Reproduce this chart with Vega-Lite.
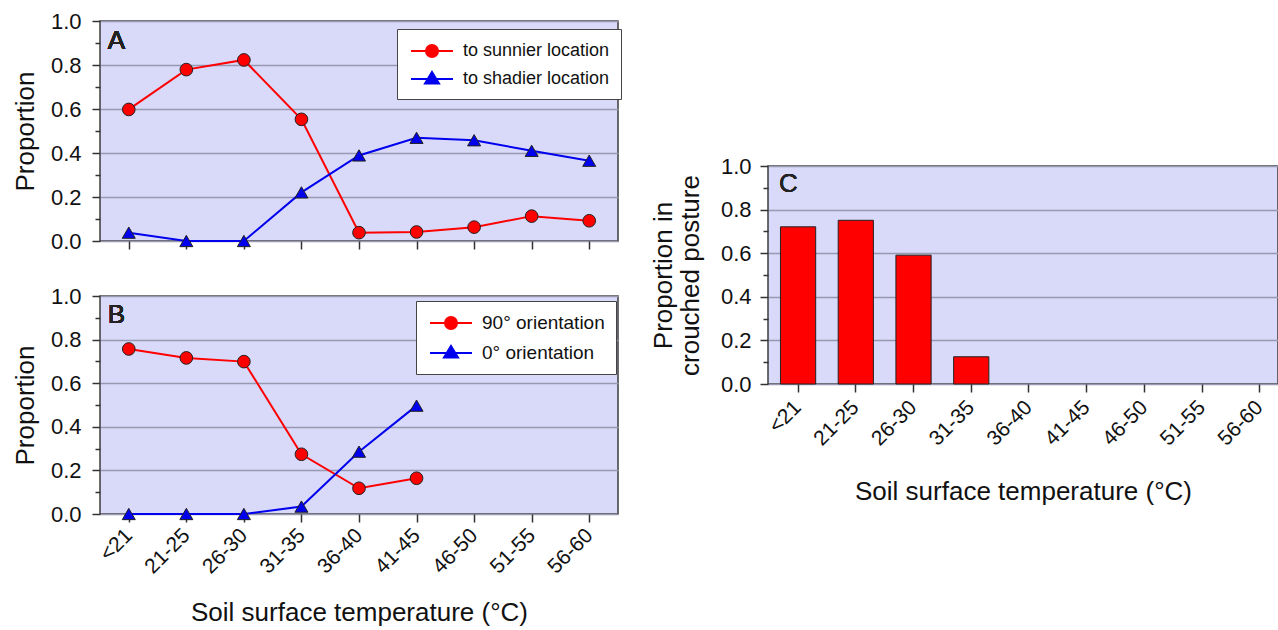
{
  "$schema": "https://vega.github.io/schema/vega-lite/v6.json",
  "background": "white",
  "padding": {"left": 11, "top": 9, "right": 0, "bottom": 0},
  "config": {
    "font": "Liberation Sans",
    "view": {"stroke": null},
    "axis": {"labelColor": "#111", "titleColor": "#111", "titleFontWeight": "normal", "labelFont": "Liberation Sans", "titleFont": "Liberation Sans"},
    "text": {"font": "Liberation Sans"}
  },
  "datasets": {
    "a": [
      {"t": "<21", "s": "to sunnier location", "p": 0.598},
      {"t": "21-25", "s": "to sunnier location", "p": 0.779},
      {"t": "26-30", "s": "to sunnier location", "p": 0.823},
      {"t": "31-35", "s": "to sunnier location", "p": 0.553},
      {"t": "36-40", "s": "to sunnier location", "p": 0.038},
      {"t": "41-45", "s": "to sunnier location", "p": 0.041},
      {"t": "46-50", "s": "to sunnier location", "p": 0.063},
      {"t": "51-55", "s": "to sunnier location", "p": 0.113},
      {"t": "56-60", "s": "to sunnier location", "p": 0.092},
      {"t": "<21", "s": "to shadier location", "p": 0.038},
      {"t": "21-25", "s": "to shadier location", "p": 0.0},
      {"t": "26-30", "s": "to shadier location", "p": 0.0},
      {"t": "31-35", "s": "to shadier location", "p": 0.221},
      {"t": "36-40", "s": "to shadier location", "p": 0.389},
      {"t": "41-45", "s": "to shadier location", "p": 0.469},
      {"t": "46-50", "s": "to shadier location", "p": 0.458},
      {"t": "51-55", "s": "to shadier location", "p": 0.41},
      {"t": "56-60", "s": "to shadier location", "p": 0.365}
    ],
    "b": [
      {"t": "<21", "s": "90° orientation", "p": 0.757},
      {"t": "21-25", "s": "90° orientation", "p": 0.716},
      {"t": "26-30", "s": "90° orientation", "p": 0.699},
      {"t": "31-35", "s": "90° orientation", "p": 0.274},
      {"t": "36-40", "s": "90° orientation", "p": 0.118},
      {"t": "41-45", "s": "90° orientation", "p": 0.164},
      {"t": "<21", "s": "0° orientation", "p": 0.0},
      {"t": "21-25", "s": "0° orientation", "p": 0.0},
      {"t": "26-30", "s": "0° orientation", "p": 0.0},
      {"t": "31-35", "s": "0° orientation", "p": 0.034},
      {"t": "36-40", "s": "0° orientation", "p": 0.286},
      {"t": "41-45", "s": "0° orientation", "p": 0.497}
    ],
    "c": [
      {"t": "<21", "p": 0.721},
      {"t": "21-25", "p": 0.751},
      {"t": "26-30", "p": 0.591},
      {"t": "31-35", "p": 0.125}
    ]
  },
  "spacing": 26,
  "resolve": {"scale": {"x": "independent", "y": "independent", "fill": "independent", "stroke": "independent", "shape": "independent"}, "legend": {"fill": "independent", "stroke": "independent", "shape": "independent"}},
  "hconcat": [
    {
      "spacing": 31,
      "resolve": {"scale": {"x": "independent", "y": "independent", "fill": "independent", "stroke": "independent", "shape": "independent"}, "legend": {"fill": "independent", "stroke": "independent", "shape": "independent"}},
      "vconcat": [
        {
          "width": 518,
          "height": 220,
          "view": {"fill": "#d9d9fa", "stroke": "#3c3c3c", "strokeWidth": 1.5},
          "data": {"name": "a"},
          "encoding": {
            "x": {"field": "t", "type": "ordinal", "scale": {"type": "point", "domain": ["<21", "21-25", "26-30", "31-35", "36-40", "41-45", "46-50", "51-55", "56-60"], "padding": 0.5},
              "axis": {"labels": false, "title": null, "domain": false, "ticks": true, "tickSize": 8, "tickColor": "#333", "tickWidth": 1.5, "grid": false}},
            "y": {"field": "p", "type": "quantitative", "scale": {"domain": [0, 1], "nice": false},
              "axis": {"values": [0, 0.1, 0.2, 0.3, 0.4, 0.5, 0.6, 0.7, 0.8, 0.9, 1.0], "format": ".1f",
                "labelExpr": "round(datum.value*10)%2==0 ? datum.label : ''",
                "tickSize": {"condition": {"test": "round(datum.value*10)%2==1", "value": 5}, "value": 8},
                "gridOpacity": {"condition": {"test": "round(datum.value*10)%2==1", "value": 0}, "value": 1},
                "grid": true, "gridColor": "#9898b0", "gridWidth": 1.5, "domain": false, "tickColor": "#333", "tickWidth": 1.5,
                "labelFontSize": 22, "labelPadding": 11, "title": "Proportion", "titleFontSize": 26, "titlePadding": 12}}
          },
          "layer": [
            {"transform": [{"filter": "datum.s === 'to sunnier location'"}], "mark": {"type": "line", "color": "#ff0000", "strokeWidth": 2}},
            {"transform": [{"filter": "datum.s === 'to shadier location'"}], "mark": {"type": "line", "color": "#0000ee", "strokeWidth": 2}},
            {"transform": [{"filter": "datum.s === 'to sunnier location'"}], "mark": {"type": "point", "shape": "circle", "filled": true, "fill": "#ff0000", "stroke": "#222", "strokeWidth": 1, "size": 160, "opacity": 1}},
            {"transform": [{"filter": "datum.s === 'to shadier location'"}], "mark": {"type": "point", "shape": "triangle-up", "filled": true, "fill": "#0000ee", "stroke": "#222", "strokeWidth": 1, "size": 170, "opacity": 1}},
            {"transform": [{"filter": "false"}], "mark": {"type": "point", "filled": true},
              "encoding": {
                "fill": {"field": "s", "type": "nominal", "scale": {"domain": ["to sunnier location", "to shadier location"], "range": ["#ff0000", "#0000ee"]},
                  "legend": {"orient": "none", "legendX": 297, "legendY": 8, "title": null, "symbolSize": 400, "symbolStrokeWidth": 2, "symbolOpacity": 1, "labelFontSize": 18, "labelColor": "#111", "labelOffset": 33, "padding": 11, "rowPadding": 7, "fillColor": "white", "strokeColor": "#444"}},
                "stroke": {"field": "s", "type": "nominal", "scale": {"domain": ["to sunnier location", "to shadier location"], "range": ["#ff0000", "#0000ee"]},
                  "legend": {"orient": "none", "legendX": 297, "legendY": 8, "title": null, "symbolSize": 400, "symbolStrokeWidth": 2, "symbolOpacity": 1, "labelFontSize": 18, "labelColor": "#111", "labelOffset": 33, "padding": 11, "rowPadding": 7, "fillColor": "white", "strokeColor": "#444"}},
                "shape": {"field": "s", "type": "nominal", "scale": {"domain": ["to sunnier location", "to shadier location"], "range": ["M-0.8,0H0.7M1.9,0H3.4M0.7,0A0.6,0.6 0 1,0 1.9,0A0.6,0.6 0 1,0 0.7,0Z", "M-0.8,0H3.4M1.3,-0.7L2.0,0.45L0.6,0.45Z"]},
                  "legend": {"orient": "none", "legendX": 297, "legendY": 8, "title": null, "symbolSize": 400, "symbolStrokeWidth": 2, "symbolOpacity": 1, "labelFontSize": 18, "labelColor": "#111", "labelOffset": 33, "padding": 11, "rowPadding": 7, "fillColor": "white", "strokeColor": "#444"}}
              }},
            {"mark": {"type": "text", "text": "A", "fontSize": 26, "fontWeight": "normal", "align": "left", "baseline": "middle", "dx": -21, "color": "#222"},
              "encoding": {"x": {"datum": "<21", "type": "ordinal"}, "y": {"datum": 0.91, "type": "quantitative"}}}
          ]
        },
        {
          "width": 518,
          "height": 218,
          "view": {"fill": "#d9d9fa", "stroke": "#3c3c3c", "strokeWidth": 1.5},
          "data": {"name": "b"},
          "encoding": {
            "x": {"field": "t", "type": "ordinal", "scale": {"type": "point", "domain": ["<21", "21-25", "26-30", "31-35", "36-40", "41-45", "46-50", "51-55", "56-60"], "padding": 0.5},
              "axis": {"labelAngle": -45, "labelAlign": "right", "labelBaseline": "middle", "labelFontSize": 21, "labelPadding": 10, "title": "Soil surface temperature (°C)", "titleFontSize": 26, "titlePadding": 22, "domain": false, "ticks": true, "tickSize": 8, "tickColor": "#333", "tickWidth": 1.5, "grid": false}},
            "y": {"field": "p", "type": "quantitative", "scale": {"domain": [0, 1], "nice": false},
              "axis": {"values": [0, 0.1, 0.2, 0.3, 0.4, 0.5, 0.6, 0.7, 0.8, 0.9, 1.0], "format": ".1f",
                "labelExpr": "round(datum.value*10)%2==0 ? datum.label : ''",
                "tickSize": {"condition": {"test": "round(datum.value*10)%2==1", "value": 5}, "value": 8},
                "gridOpacity": {"condition": {"test": "round(datum.value*10)%2==1", "value": 0}, "value": 1},
                "grid": true, "gridColor": "#9898b0", "gridWidth": 1.5, "domain": false, "tickColor": "#333", "tickWidth": 1.5,
                "labelFontSize": 22, "labelPadding": 11, "title": "Proportion", "titleFontSize": 26, "titlePadding": 12}}
          },
          "layer": [
            {"transform": [{"filter": "datum.s === '90° orientation'"}], "mark": {"type": "line", "color": "#ff0000", "strokeWidth": 2}},
            {"transform": [{"filter": "datum.s === '0° orientation'"}], "mark": {"type": "line", "color": "#0000ee", "strokeWidth": 2}},
            {"transform": [{"filter": "datum.s === '90° orientation'"}], "mark": {"type": "point", "shape": "circle", "filled": true, "fill": "#ff0000", "stroke": "#222", "strokeWidth": 1, "size": 160, "opacity": 1}},
            {"transform": [{"filter": "datum.s === '0° orientation'"}], "mark": {"type": "point", "shape": "triangle-up", "filled": true, "fill": "#0000ee", "stroke": "#222", "strokeWidth": 1, "size": 170, "opacity": 1}},
            {"transform": [{"filter": "false"}], "mark": {"type": "point", "filled": true},
              "encoding": {
                "fill": {"field": "s", "type": "nominal", "scale": {"domain": ["90° orientation", "0° orientation"], "range": ["#ff0000", "#0000ee"]},
                  "legend": {"orient": "none", "legendX": 316, "legendY": 5, "title": null, "symbolSize": 400, "symbolStrokeWidth": 2, "symbolOpacity": 1, "labelFontSize": 19, "labelColor": "#111", "labelOffset": 33, "padding": 11, "rowPadding": 9, "fillColor": "white", "strokeColor": "#444"}},
                "stroke": {"field": "s", "type": "nominal", "scale": {"domain": ["90° orientation", "0° orientation"], "range": ["#ff0000", "#0000ee"]},
                  "legend": {"orient": "none", "legendX": 316, "legendY": 5, "title": null, "symbolSize": 400, "symbolStrokeWidth": 2, "symbolOpacity": 1, "labelFontSize": 19, "labelColor": "#111", "labelOffset": 33, "padding": 11, "rowPadding": 9, "fillColor": "white", "strokeColor": "#444"}},
                "shape": {"field": "s", "type": "nominal", "scale": {"domain": ["90° orientation", "0° orientation"], "range": ["M-0.8,0H0.7M1.9,0H3.4M0.7,0A0.6,0.6 0 1,0 1.9,0A0.6,0.6 0 1,0 0.7,0Z", "M-0.8,0H3.4M1.3,-0.7L2.0,0.45L0.6,0.45Z"]},
                  "legend": {"orient": "none", "legendX": 316, "legendY": 5, "title": null, "symbolSize": 400, "symbolStrokeWidth": 2, "symbolOpacity": 1, "labelFontSize": 19, "labelColor": "#111", "labelOffset": 33, "padding": 11, "rowPadding": 9, "fillColor": "white", "strokeColor": "#444"}}
              }},
            {"mark": {"type": "text", "text": "B", "fontSize": 26, "fontWeight": "normal", "align": "left", "baseline": "middle", "dx": -21, "color": "#222"},
              "encoding": {"x": {"datum": "<21", "type": "ordinal"}, "y": {"datum": 0.913, "type": "quantitative"}}}
          ]
        }
      ]
    },
    {
      "spacing": 10,
      "vconcat": [
        {"width": 10, "height": 123, "data": {"values": []}, "mark": "point", "view": {"stroke": null, "fill": null}},
        {
          "width": 510,
          "height": 218,
          "view": {"fill": "#d9d9fa", "stroke": "#3c3c3c", "strokeWidth": 1.5},
          "data": {"name": "c"},
          "encoding": {
            "x": {"field": "t", "type": "ordinal", "scale": {"type": "band", "domain": ["<21", "21-25", "26-30", "31-35", "36-40", "41-45", "46-50", "51-55", "56-60"], "paddingInner": 0.39, "paddingOuter": 0.1125, "align": 0.96},
              "axis": {"labelAngle": -45, "labelAlign": "right", "labelBaseline": "middle", "labelFontSize": 21, "labelPadding": 12, "title": "Soil surface temperature (°C)", "titleFontSize": 26, "titlePadding": 29, "domain": false, "ticks": true, "tickSize": 8, "tickColor": "#333", "tickWidth": 1.5, "grid": false}},
            "y": {"field": "p", "type": "quantitative", "scale": {"domain": [0, 1], "nice": false},
              "axis": {"values": [0, 0.1, 0.2, 0.3, 0.4, 0.5, 0.6, 0.7, 0.8, 0.9, 1.0], "format": ".1f",
                "labelExpr": "round(datum.value*10)%2==0 ? datum.label : ''",
                "tickSize": {"condition": {"test": "round(datum.value*10)%2==1", "value": 5}, "value": 8},
                "gridOpacity": {"condition": {"test": "round(datum.value*10)%2==1", "value": 0}, "value": 1},
                "grid": true, "gridColor": "#9898b0", "gridWidth": 1.5, "domain": false, "tickColor": "#333", "tickWidth": 1.5,
                "labelFontSize": 22, "labelPadding": 9, "title": ["Proportion in", "crouched posture"], "titleFontSize": 26, "titleLineHeight": 27, "titlePadding": 17}}
          },
          "layer": [
            {"mark": {"type": "bar", "color": "#ff0000", "stroke": "#222", "strokeWidth": 1}},
            {"mark": {"type": "text", "text": "C", "fontSize": 26, "fontWeight": "normal", "align": "left", "baseline": "middle", "dx": -19, "color": "#222"},
              "encoding": {"x": {"datum": "<21", "type": "ordinal"}, "y": {"datum": 0.917, "type": "quantitative"}}}
          ]
        }
      ]
    }
  ]
}
